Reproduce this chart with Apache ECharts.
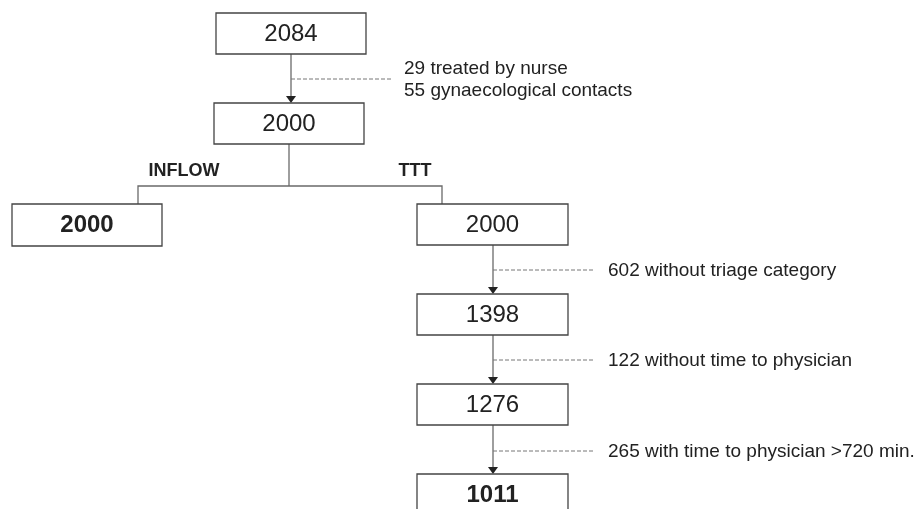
<!DOCTYPE html>
<html>
<head>
<meta charset="utf-8">
<script src="https://cdn.jsdelivr.net/npm/echarts@6/dist/echarts.min.js"></script>
<style>
  html, body { margin: 0; padding: 0; background: #fff; }
  #chart { width: 915px; height: 509px; }
</style>
</head>
<body>
<div id="chart"></div>
<script>
// node counts
const nodeValues = [2084, 2000, 2000, 2000, 1398, 1276, 1011]
// exclusion notes between steps
const exclusionNotes = [
  '29 treated by nurse\n55 gynaecological contacts',
  '602 without triage category',
  '122 without time to physician',
  '265 with time to physician >720 min.'
]
const branchLabels = ['INFLOW', 'TTT']

// layout (pixel space of the hidden axes)
const boxLayout = [
  { x1: 216, y1: 13, x2: 366, y2: 54, bold: false },
  { x1: 214, y1: 103, x2: 364, y2: 144, bold: false },
  { x1: 12, y1: 204, x2: 162, y2: 246, bold: true },
  { x1: 417, y1: 204, x2: 568, y2: 245, bold: false },
  { x1: 417, y1: 294, x2: 568, y2: 335, bold: false },
  { x1: 417, y1: 384, x2: 568, y2: 425, bold: false },
  { x1: 417, y1: 474, x2: 568, y2: 525, bold: true }
]
// arrow: from box -> to box, x, dashed line y, dashed end x, text x
const arrowLayout = [
  { from: 0, to: 1, x: 291, dy: 79, dx2: 393, tx: 404 },
  { from: 3, to: 4, x: 493, dy: 270, dx2: 595, tx: 608 },
  { from: 4, to: 5, x: 493, dy: 360, dx2: 595, tx: 608 },
  { from: 5, to: 6, x: 493, dy: 451, dx2: 595, tx: 608 }
]
// branch: trunk x, trunk top, split y, left x, right x, box top, label centres
const branchLayout = { cx: 289, top: 144, mid: 186, xl: 138, xr: 442, bot: 204, ly: 171, lx: [184, 415] }

const boxData = nodeValues.map((v, i) => {
  const b = boxLayout[i]
  return [b.x1, b.y1, b.x2, b.y2, v, b.bold ? 1 : 0]
})
const arrowData = arrowLayout.map((a, i) => [
  a.x, boxLayout[a.from].y2, boxLayout[a.to].y1, a.dy, a.dx2, a.tx
])
const bl = branchLayout

const lineColor = '#6a6a6a'
const textColor = '#222'
const fontFamily = '"Liberation Sans", Arial, sans-serif'

const chart = echarts.init(document.getElementById('chart'))

chart.setOption({
  animation: false,
  backgroundColor: '#fff',
  grid: { left: 0, right: 0, top: 0, bottom: 0 },
  xAxis: { type: 'value', min: 0, max: 915, show: false },
  yAxis: { type: 'value', min: 0, max: 509, inverse: true, show: false },
  series: [
    {
      // branch connector
      type: 'custom',
      data: [[bl.cx, bl.top, bl.mid, bl.xl, bl.xr, bl.bot]],
      renderItem(params, api) {
        const cx = api.value(0), yTop = api.value(1), yMid = api.value(2)
        const xl = api.value(3), xr = api.value(4), yBot = api.value(5)
        const p = (x, y) => api.coord([x, y])
        const style = { stroke: lineColor, lineWidth: 1.3, fill: null }
        const labels = branchLabels.map((t, i) => ({
          type: 'text',
          style: {
            x: p(bl.lx[i], bl.ly)[0], y: p(bl.lx[i], bl.ly)[1],
            text: t, fill: textColor, font: 'bold 18px ' + fontFamily,
            align: 'center', verticalAlign: 'middle'
          }
        }))
        return {
          type: 'group',
          children: [
            { type: 'polyline', shape: { points: [p(cx, yTop), p(cx, yMid)] }, style },
            { type: 'polyline', shape: { points: [p(xl, yBot), p(xl, yMid), p(xr, yMid), p(xr, yBot)] }, style }
          ].concat(labels)
        }
      }
    },
    {
      // arrows with exclusion notes
      type: 'custom',
      data: arrowData,
      renderItem(params, api) {
        const x = api.value(0), y1 = api.value(1), y2 = api.value(2)
        const dy = api.value(3), dx2 = api.value(4), tx = api.value(5)
        const note = exclusionNotes[params.dataIndex]
        const p = (a, b) => api.coord([a, b])
        const tip = p(x, y2)
        return {
          type: 'group',
          children: [
            { type: 'line', shape: { x1: p(x, y1)[0], y1: p(x, y1)[1], x2: tip[0], y2: tip[1] - 6 },
              style: { stroke: lineColor, lineWidth: 1.3 } },
            { type: 'polygon', shape: { points: [[tip[0] - 5, tip[1] - 7], [tip[0] + 5, tip[1] - 7], [tip[0], tip[1]]] },
              style: { fill: '#222' } },
            { type: 'line', shape: { x1: p(x, dy)[0], y1: p(x, dy)[1], x2: p(dx2, dy)[0], y2: p(dx2, dy)[1] },
              style: { stroke: '#777', lineWidth: 1, lineDash: [4, 2] } },
            {
              type: 'text',
              style: {
                x: p(tx, dy)[0], y: p(tx, dy)[1] + 1,
                text: note, fill: textColor, font: '19px ' + fontFamily,
                lineHeight: 22, align: 'left', verticalAlign: 'middle'
              }
            }
          ]
        }
      }
    },
    {
      // boxes
      type: 'custom',
      data: boxData,
      renderItem(params, api) {
        const a = api.coord([api.value(0), api.value(1)])
        const b = api.coord([api.value(2), api.value(3)])
        const bold = api.value(5) === 1
        return {
          type: 'group',
          children: [
            { type: 'rect', shape: { x: a[0], y: a[1], width: b[0] - a[0], height: b[1] - a[1] },
              style: { fill: '#fff', stroke: '#444', lineWidth: 1.3 } },
            {
              type: 'text',
              style: {
                x: (a[0] + b[0]) / 2, y: a[1] + 21,
                text: String(api.value(4)), fill: textColor,
                font: (bold ? 'bold ' : '') + '24px ' + fontFamily,
                align: 'center', verticalAlign: 'middle'
              }
            }
          ]
        }
      }
    }
  ]
})
</script>
</body>
</html>
